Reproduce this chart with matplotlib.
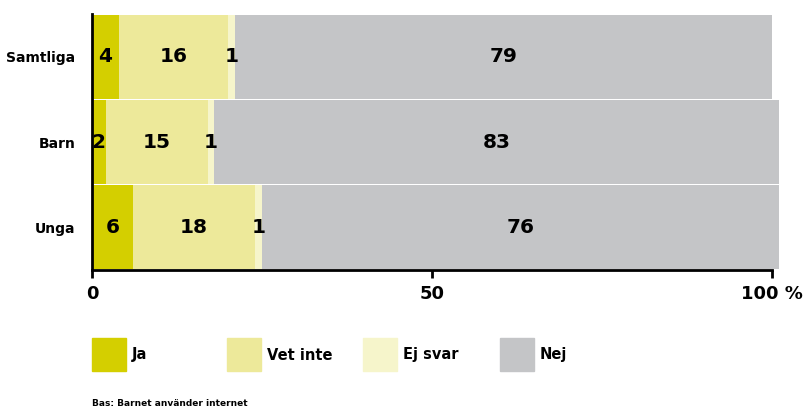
import matplotlib
matplotlib.use("Agg")
import matplotlib.pyplot as plt
from matplotlib.patches import Rectangle

plt.rcParams.update({"font.family": "DejaVu Sans", "font.weight": "bold"})

groups = ["Samtliga", "Barn", "Unga"]
series = ["Ja", "Vet inte", "Ej svar", "Nej"]
ja = [4, 2, 6]
vet_inte = [16, 15, 18]
ej_svar = [1, 1, 1]
nej = [79, 83, 76]
colors = ["#d4cf00", "#ede99a", "#f6f5cb", "#c4c5c7"]
xticks = [0, 50, 100]
xticklabels = ["0", "50", "100 %"]
footnote = "Bas: Barnet använder internet"

W, H = 808, 407
fig = plt.figure(figsize=(W / 100, H / 100), dpi=100)
ax = fig.add_axes([92 / W, 1 - 270 / H, 680 / W, 256 / H])

ypos = [2, 1, 0]
left = [0, 0, 0]
for vals, col in zip([ja, vet_inte, ej_svar, nej], colors):
    ax.barh(ypos, vals, left=left, height=0.985, color=col, clip_on=False, zorder=1)
    for y, l, v in zip(ypos, left, vals):
        ax.text(l + v / 2, y, str(v), ha="center", va="center", fontsize=14.5,
                fontweight="bold", color="black", zorder=3)
    left = [l + v for l, v in zip(left, vals)]

ax.set_xlim(0, 100)
ax.set_ylim(-0.5, 2.5)
ax.set_yticks(ypos)
ax.set_yticklabels(groups, fontsize=10, fontweight="bold")
ax.tick_params(axis="y", length=0, pad=12)
ax.set_xticks(xticks)
ax.set_xticklabels(xticklabels, fontsize=13, fontweight="bold")
ax.tick_params(axis="x", length=6, width=2, direction="out", pad=5)
for s in ["top", "right"]:
    ax.spines[s].set_visible(False)
for s in ["left", "bottom"]:
    ax.spines[s].set_linewidth(2)
    ax.spines[s].set_zorder(4)

# legend drawn by hand
leg_x = [92, 227, 363, 500]
for x0, col, lab in zip(leg_x, colors, series):
    fig.patches.append(Rectangle((x0 / W, 1 - 371 / H), 34 / W, 33 / H,
                                 transform=fig.transFigure, color=col))
    fig.text((x0 + 40) / W, 1 - 355 / H, lab, ha="left", va="center",
             fontsize=10.5, fontweight="bold")

fig.text(92 / W, 1 - 403 / H, footnote, ha="left", va="center", fontsize=6.5,
         fontweight="bold")

fig.savefig("out.png", dpi=100)
